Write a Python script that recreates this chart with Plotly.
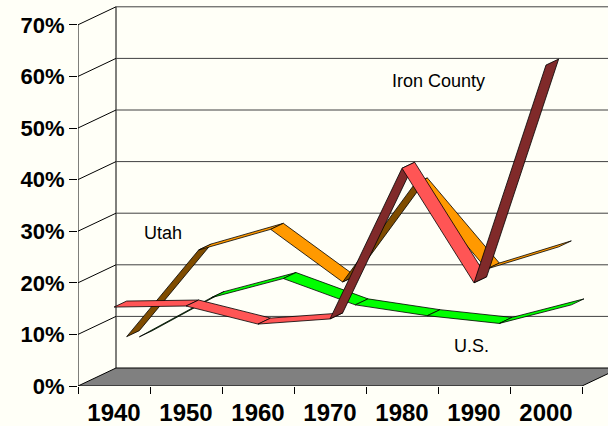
import plotly.graph_objects as go

# ---- data (decade growth, %) ----
years = ["1940", "1950", "1960", "1970", "1980", "1990", "2000"]
iron_county = [15.3, 15.5, 12.0, 13.0, 42.2, 20.0, 62.2]
utah = [8.4, 25.2, 29.2, 19.0, 38.0, 21.5, 25.8]
us = [7.2, 14.8, 18.5, 13.4, 11.3, 9.8, 13.4]
y_ticks = [0, 10, 20, 30, 40, 50, 60, 70]
y_tick_labels = ["0%", "10%", "20%", "30%", "40%", "50%", "60%", "70%"]

# ---- 3D projection style constants ----
W, H = 608, 426
ML, MB = 78, 40
PX_PER_CAT = 72.0
PX_PER_PCT = 5.16
DX = 38 / PX_PER_CAT      # full depth shift in category units
DY = 18 / PX_PER_PCT      # full depth shift in % units
BG = "#FFFFF7"
FONT = "Liberation Sans, Arial, sans-serif"

series = [
    # name, values, depth slot, top colour, side colour  (drawn back to front)
    ("U.S.", us, (2 / 3, 1.0), "#00FF00", "#008000"),
    ("Utah", utah, (1 / 3, 2 / 3), "#FF9900", "#7F4C00"),
    ("Iron County", iron_county, (0.0, 1 / 3), "#FF5555", "#802A2A"),
]

fig = go.Figure()

for name, vals, (d0, d1), c_top, c_side in series:
    for i in range(len(vals) - 1):
        v0, v1 = vals[i], vals[i + 1]
        xs = [i + DX * d0, i + 1 + DX * d0, i + 1 + DX * d1, i + DX * d1, i + DX * d0]
        ys = [v0 + DY * d0, v1 + DY * d0, v1 + DY * d1, v0 + DY * d1, v0 + DY * d0]
        # which face of the ribbon faces the viewer
        slope = (v1 - v0) * PX_PER_PCT / PX_PER_CAT
        col = c_top if slope < 18 / 38 else c_side
        fig.add_trace(go.Scatter(
            x=xs, y=ys, mode="lines", fill="toself", fillcolor=col,
            line=dict(color="black", width=0.8), hoverinfo="skip",
            showlegend=False, name=name))

# invisible trace for the label axis
fig.add_trace(go.Scatter(x=list(range(len(years))), y=[None] * len(years),
                         xaxis="x2", mode="markers", showlegend=False,
                         hoverinfo="skip"))

n = len(years)
left, right = -0.5, n - 0.5
shapes = []
# floor
shapes.append(dict(type="path", layer="below", xref="x", yref="y",
                   path=f"M{left},0 L{right},0 L{right + DX},{DY} L{left + DX},{DY} Z",
                   fillcolor="#808080", line=dict(color="black", width=1)))
# back wall left edge
shapes.append(dict(type="line", layer="below", xref="x", yref="y",
                   x0=left + DX, y0=DY, x1=left + DX, y1=y_ticks[-1] + DY,
                   line=dict(color="black", width=1)))
# front value axis line
shapes.append(dict(type="line", layer="below", xref="x", yref="y",
                   x0=left, y0=0, x1=left, y1=y_ticks[-1],
                   line=dict(color="black", width=1)))
for v in y_ticks[1:]:
    # back wall gridline
    shapes.append(dict(type="line", layer="below", xref="x", yref="y",
                       x0=left + DX, y0=v + DY, x1=right + DX, y1=v + DY,
                       line=dict(color="#404040", width=1)))
    # side wall diagonal
    shapes.append(dict(type="line", layer="below", xref="x", yref="y",
                       x0=left, y0=v, x1=left + DX, y1=v + DY,
                       line=dict(color="black", width=1)))

x_range = [left, left + (W - ML) / PX_PER_CAT]
y_range = [0, (H - MB) / PX_PER_PCT]

fig.update_layout(
    width=W, height=H,
    margin=dict(l=ML, r=0, t=0, b=MB, pad=0),
    paper_bgcolor=BG, plot_bgcolor=BG,
    shapes=shapes,
    xaxis=dict(range=x_range, tickvals=[left + k for k in range(n + 1)],
               showticklabels=False, ticks="outside", ticklen=7,
               tickcolor="black", showgrid=False, zeroline=False,
               showline=False, fixedrange=True, automargin=False),
    xaxis2=dict(range=x_range, overlaying="x", anchor="y", side="bottom",
                tickvals=list(range(n)), ticktext=years, ticks="",
                ticklabelstandoff=10,
                tickfont=dict(family=FONT, size=24, color="black", weight="bold"),
                showgrid=False, zeroline=False, showline=False, fixedrange=True,
                automargin=False),
    yaxis=dict(range=y_range, tickvals=y_ticks, ticktext=y_tick_labels,
               ticks="outside", ticklen=8, tickcolor="black",
               tickfont=dict(family=FONT, size=22, color="black", weight="bold"),
               showgrid=False, zeroline=False, showline=False, fixedrange=True,
               automargin=False),
    annotations=[
        dict(x=0.68, y=29.6, xref="x", yref="y", text="Utah", showarrow=False,
             font=dict(family=FONT, size=18, color="black")),
        dict(x=4.5, y=59.1, xref="x", yref="y", text="Iron County", showarrow=False,
             font=dict(family=FONT, size=18, color="black")),
        dict(x=4.97, y=7.8, xref="x", yref="y", text="U.S.", showarrow=False,
             font=dict(family=FONT, size=18, color="black")),
    ],
)

fig.write_html(
    "out.html",
    config={"displayModeBar": False},
    post_script=f"document.body.style.margin='0';document.body.style.background='{BG}';",
)
